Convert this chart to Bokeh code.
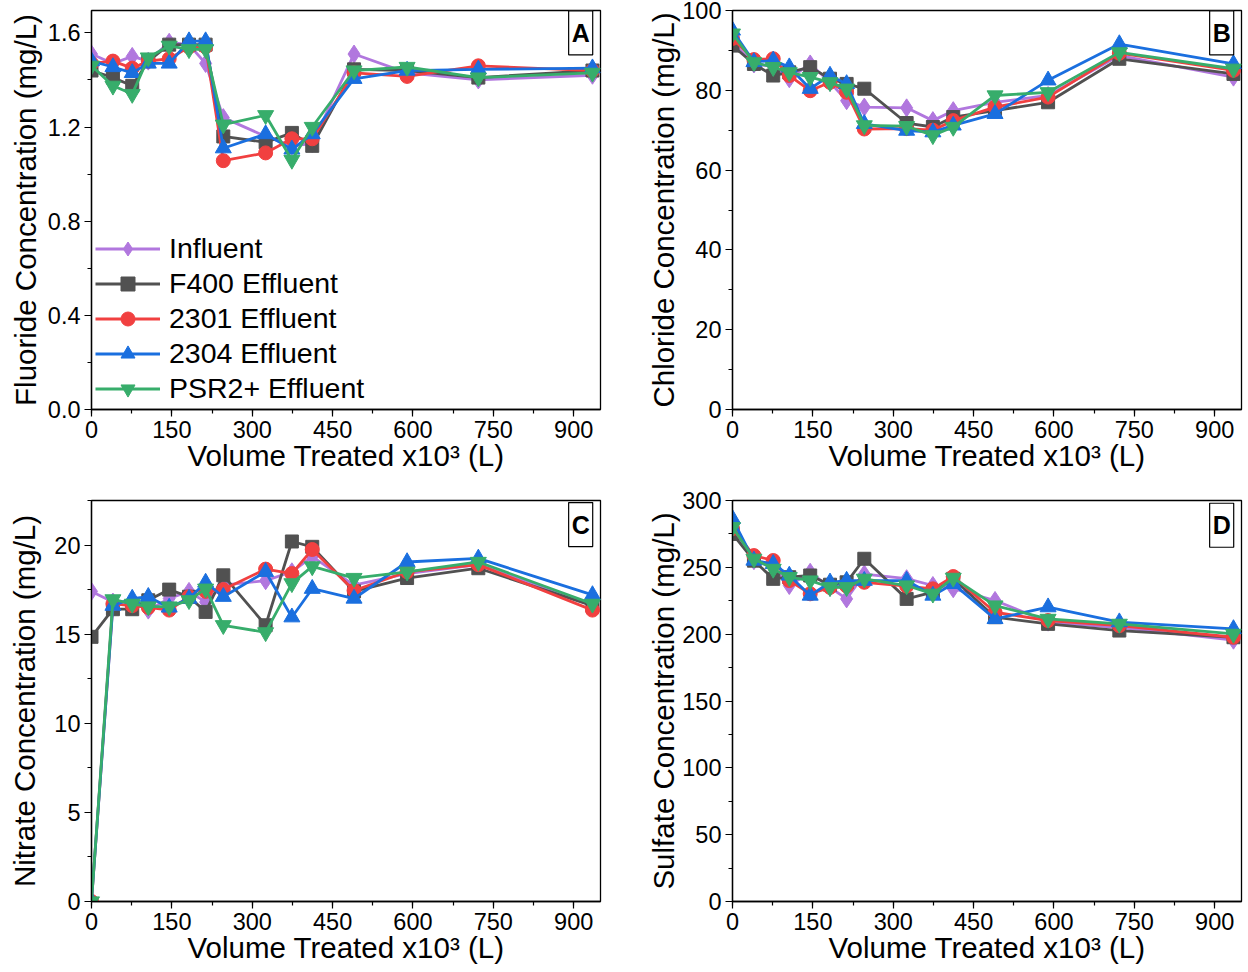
from bokeh.plotting import figure
from bokeh.models import Range1d, SingleIntervalTicker, PrintfTickFormatter, Legend, LegendItem, Label
from bokeh.layouts import column, row
from bokeh.embed import file_html
from bokeh.resources import INLINE

# ---------------- data ----------------
volume = [0, 40, 76, 106, 145, 182, 213, 246, 325, 374, 412, 490, 589, 722, 935]

series_names = ["Influent", "F400 Effluent", "2301 Effluent", "2304 Effluent", "PSR2+ Effluent"]
colors = ["#B177DE", "#515151", "#F14040", "#1A6FDF", "#37AD6B"]
markers = ["diamond", "square", "circle", "triangle", "inverted_triangle"]
marker_sizes = [18, 13, 14, 16, 16]

fluoride_influent = [1.51, 1.47, 1.50, 1.48, 1.56, 1.55, 1.47, 1.24, 1.16, 1.12, 1.13, 1.51, 1.43, 1.40, 1.42]
fluoride_f400 = [1.44, 1.41, 1.375, 1.48, 1.55, 1.55, 1.55, 1.16, 1.135, 1.175, 1.12, 1.445, 1.44, 1.41, 1.44]
fluoride_2301 = [1.47, 1.48, 1.45, 1.48, 1.49, 1.54, 1.54, 1.057, 1.09, 1.15, 1.15, 1.43, 1.415, 1.46, 1.44]
fluoride_2304 = [1.48, 1.455, 1.43, 1.47, 1.47, 1.565, 1.565, 1.11, 1.17, 1.105, 1.17, 1.405, 1.44, 1.445, 1.45]
fluoride_psr2 = [1.46, 1.375, 1.34, 1.495, 1.545, 1.53, 1.53, 1.21, 1.25, 1.06, 1.20, 1.44, 1.455, 1.41, 1.43]

chloride_influent = [92.1, 86.6, 86.0, 82.9, 86.6, 82.0, 77.4, 75.8, 75.6, 72.4, 74.9, 77.0, 78.7, 88.7, 83.3]
chloride_f400 = [91.2, 86.6, 83.7, 84.5, 85.8, 82.9, 81.6, 80.4, 71.8, 70.8, 73.3, 74.9, 77.0, 87.9, 84.1]
chloride_2301 = [93.0, 87.7, 87.9, 83.7, 79.9, 82.0, 79.5, 70.3, 70.4, 70.0, 72.4, 75.8, 78.3, 89.3, 85.0]
chloride_2304 = [95.0, 87.1, 87.5, 85.8, 80.4, 83.7, 81.6, 71.6, 69.9, 69.5, 71.2, 74.1, 82.5, 91.6, 86.6]
chloride_psr2 = [94.2, 87.0, 85.8, 84.5, 83.3, 82.0, 80.4, 71.2, 71.0, 68.7, 70.8, 78.7, 79.5, 89.5, 85.4]

nitrate_influent = [17.4, 16.8, 16.8, 16.35, 17.0, 17.4, 16.8, 17.75, 18.0, 18.5, 19.35, 17.75, 18.4, 18.9, 16.6]
nitrate_f400 = [14.85, 16.4, 16.4, 16.9, 17.5, 17.1, 16.25, 18.3, 15.5, 20.2, 19.9, 17.4, 18.15, 18.7, 16.6]
nitrate_2301 = [0, 16.7, 16.6, 16.5, 16.35, 17.1, 17.4, 17.5, 18.65, 18.4, 19.75, 17.45, 18.5, 18.9, 16.35]
nitrate_2304 = [0, 16.6, 17.0, 17.1, 16.5, 17.0, 17.9, 17.1, 18.5, 15.95, 17.55, 17.0, 19.05, 19.25, 17.2]
nitrate_psr2 = [0, 16.95, 16.7, 16.55, 16.55, 16.9, 17.55, 15.5, 15.1, 17.85, 18.8, 18.15, 18.5, 19.05, 16.7]

sulfate_influent = [277.5, 255, 250, 236.4, 246.3, 235, 226.4, 245, 241.5, 236.4, 234, 225.2, 209, 205, 195.5]
sulfate_f400 = [275, 255, 241.4, 242.6, 243.9, 237, 238.8, 256.4, 226.4, 231.5, 241.4, 212.7, 207.7, 202.7, 197.7]
sulfate_2301 = [279, 258.8, 255.1, 240.1, 230.2, 235, 236, 238.8, 236, 233.9, 243.1, 216.4, 210.2, 206.4, 197.7]
sulfate_2304 = [286.3, 255.1, 252.6, 243.9, 228.9, 238.8, 240.1, 240, 240.1, 228.9, 237.6, 211.4, 220.2, 209, 203.9]
sulfate_psr2 = [280, 256.4, 248.8, 242.6, 240.1, 235.1, 235.1, 241.4, 236.4, 230.2, 242.1, 221.4, 211.4, 207.7, 200.2]

x_label = "Volume Treated x10\u00b3 (L)"
FONT = "Liberation Sans"


def make_panel(series, ylabel, yend, yint, yfmt, letter, letter_y,
               width, height, bl, br, bt, bb, ystand, xstand, legend=False):
    p = figure(width=width, height=height, output_backend="svg", toolbar_location=None,
               x_range=Range1d(0, 950), y_range=Range1d(0, yend),
               min_border_left=bl, min_border_right=br, min_border_top=bt, min_border_bottom=bb)
    p.grid.visible = False
    p.outline_line_color = "black"
    p.outline_line_width = 1.3
    p.outline_line_alpha = 1.0

    p.xaxis.ticker = SingleIntervalTicker(interval=150, num_minor_ticks=2)
    p.yaxis.ticker = SingleIntervalTicker(interval=yint, num_minor_ticks=2)
    if yfmt:
        p.yaxis.formatter = PrintfTickFormatter(format=yfmt)
    p.xaxis.axis_label = x_label
    p.yaxis.axis_label = ylabel
    for ax in (p.xaxis, p.yaxis):
        ax.axis_line_color = "black"
        ax.axis_line_width = 1.3
        ax.major_tick_in = 0
        ax.major_tick_out = 7
        ax.minor_tick_in = 0
        ax.minor_tick_out = 4
        ax.major_tick_line_color = "black"
        ax.minor_tick_line_color = "black"
        ax.major_tick_line_width = 1.2
        ax.minor_tick_line_width = 1.2
        ax.major_label_text_font = FONT
        ax.major_label_text_font_size = "23.5px"
        ax.major_label_text_color = "black"
        ax.major_label_standoff = 4
        ax.axis_label_text_font = FONT
        ax.axis_label_text_font_size = "29.5px"
        ax.axis_label_text_font_style = "normal"
        ax.axis_label_text_color = "black"
    p.yaxis.axis_label_standoff = ystand
    p.xaxis.axis_label_standoff = xstand

    items = []
    for vals, name, col, mk, ms in zip(series, series_names, colors, markers, marker_sizes):
        r1 = p.line(volume, vals, line_color=col, line_width=2.8)
        r2 = p.scatter(volume, vals, marker=mk, size=ms, fill_color=col, line_color=col)
        items.append(LegendItem(label=name, renderers=[r1, r2]))

    if legend:
        lg = Legend(items=items, location=(4, 3), orientation="vertical")
        lg.background_fill_alpha = 0
        lg.border_line_alpha = 0
        lg.padding = 0
        lg.margin = 0
        lg.spacing = 0
        lg.glyph_width = 65
        lg.glyph_height = 35
        lg.label_height = 35
        lg.label_standoff = 9
        lg.label_text_font = FONT
        lg.label_text_font_size = "28.5px"
        lg.label_text_color = "black"
        p.add_layout(lg)

    p.add_layout(Label(x=913, y=letter_y, text=letter, text_align="center", text_baseline="middle",
                       text_font=FONT, text_font_style="bold", text_font_size="25px",
                       text_color="black", border_line_color="black", border_line_width=1.2,
                       background_fill_color="white",
                       padding=dict(left=3, right=3, top=8, bottom=8)))
    return p


pA = make_panel([fluoride_influent, fluoride_f400, fluoride_2301, fluoride_2304, fluoride_psr2],
                "Fluoride Concentration (mg/L)", 1.695, 0.4, "%.1f", "A", 1.6,
                640, 487, 91, 40, 10, 78, 3, -2, legend=True)
pB = make_panel([chloride_influent, chloride_f400, chloride_2301, chloride_2304, chloride_psr2],
                "Chloride Concentration (mg/L)", 100, 20, None, "B", 94.4,
                608, 487, 92, 7, 10, 78, -1, -2)
pC = make_panel([nitrate_influent, nitrate_f400, nitrate_2301, nitrate_2304, nitrate_psr2],
                "Nitrate Concentration (mg/L)", 22.5, 5, None, "C", 21.15,
                640, 485, 91, 40, 13, 71, 10, -2)
pD = make_panel([sulfate_influent, sulfate_f400, sulfate_2301, sulfate_2304, sulfate_psr2],
                "Sulfate Concentration (mg/L)", 300, 50, None, "D", 281.5,
                608, 485, 92, 7, 13, 71, -1, -2)

layout = column(row(pA, pB), row(pC, pD))
open("out.html", "w").write(file_html(layout, INLINE))
